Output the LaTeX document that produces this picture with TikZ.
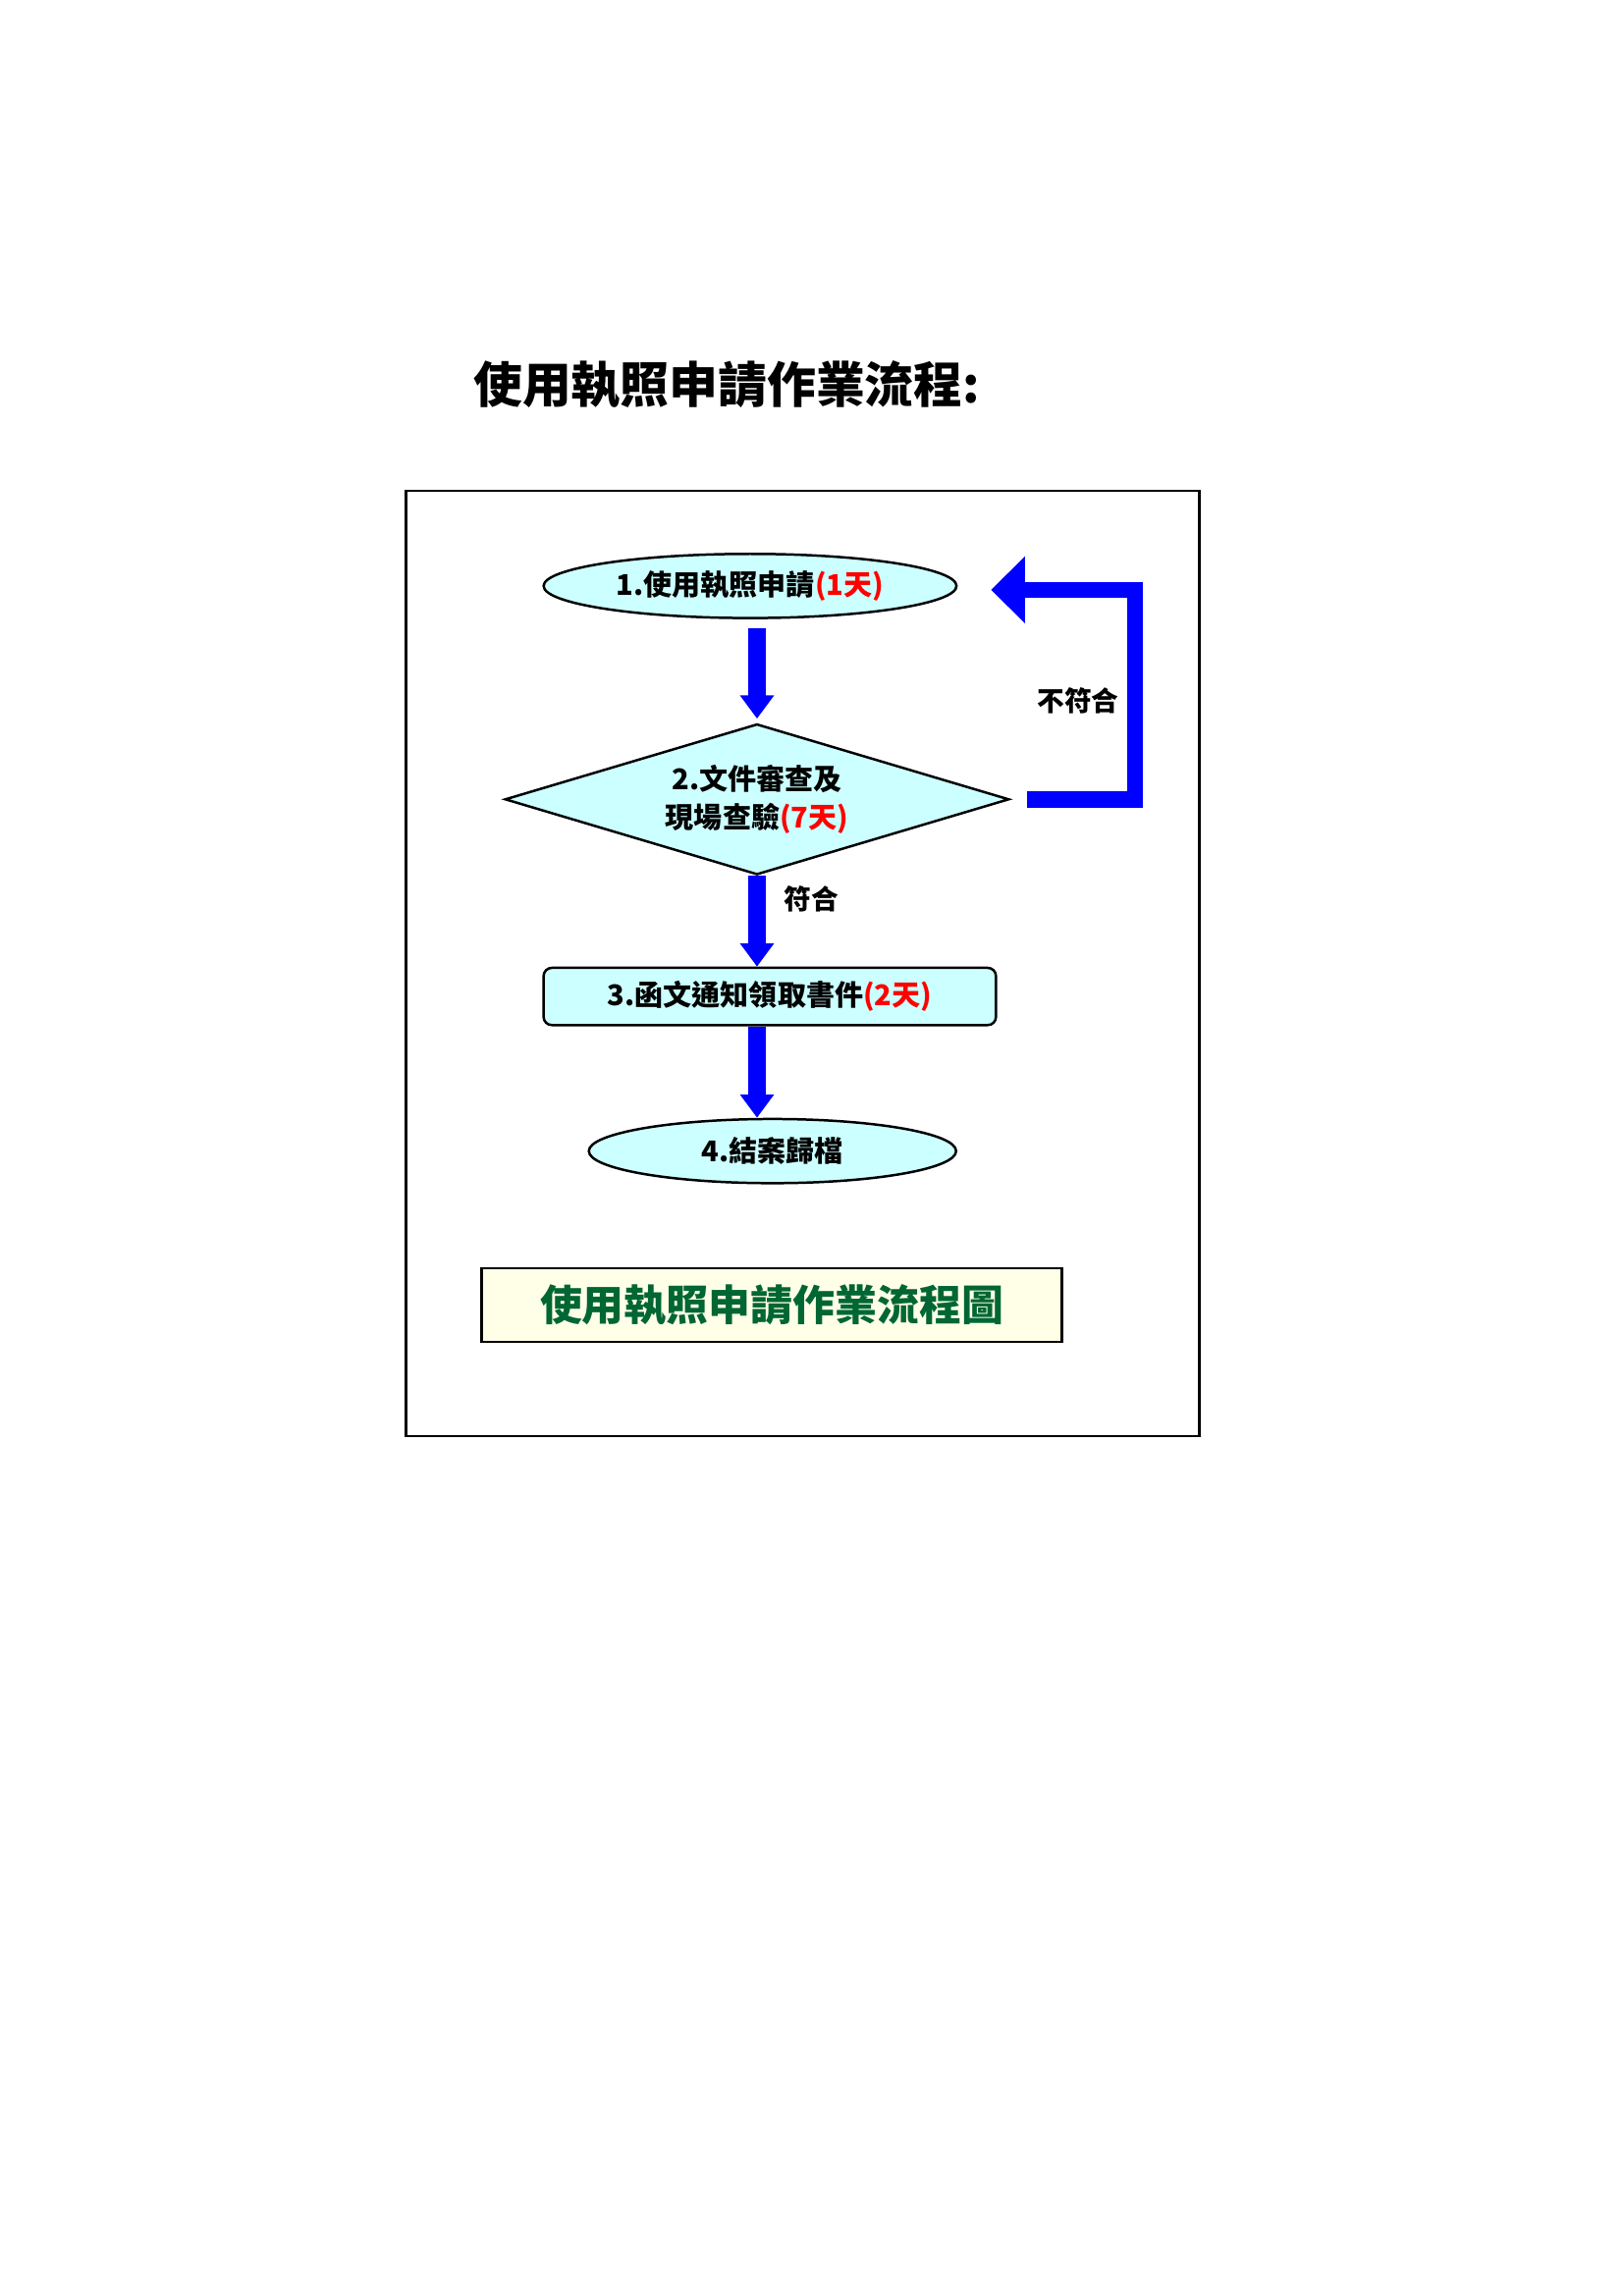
\documentclass[tikz,border=0pt]{standalone}
\usepackage{fontspec}
\setmainfont{Noto Sans CJK TC}
\usetikzlibrary{shapes.geometric,arrows.meta,positioning}

\definecolor{boxcyan}{RGB}{204,255,255}
\definecolor{flowblue}{RGB}{0,0,255}
\definecolor{capgreen}{RGB}{0,102,51}
\definecolor{capyellow}{RGB}{255,255,232}

\newcommand{\tian}[1]{\textcolor{red}{(#1天)}}

\begin{document}
\begin{tikzpicture}[
    flowtext/.style={font=\fontsize{10.5}{14}\selectfont\bfseries, align=center},
    ovalbox/.style={ellipse, draw, line width=0.9pt, fill=boxcyan, inner sep=0pt, flowtext},
    checkbox/.style={diamond, aspect=3.3, draw, line width=0.9pt, fill=boxcyan, inner sep=0pt, flowtext},
    taskbox/.style={rectangle, rounded corners=3pt, draw, line width=0.9pt, fill=boxcyan, inner sep=0pt, flowtext},
    downarrow/.style={draw=flowblue, line width=6.5pt, -{Triangle[length=0.3cm, width=0.42cm]}},
    backarrow/.style={draw=flowblue, line width=6pt, -{Triangle[length=0.44cm, width=0.84cm]}},
    flowlabel/.style={font=\fontsize{10}{12}\selectfont\bfseries}
]
    % A4 页面
    \useasboundingbox (0,0) rectangle (21,29.7);

    % 标题
    \node[anchor=west, font=\fontsize{18}{22}\selectfont\bfseries] (title) at (6.0,24.72) {使用執照申請作業流程:};

    % 外框
    \draw[line width=0.8pt] (5.25,11.12) rectangle (15.51,23.35);

    % 流程节点
    \node[ovalbox, minimum width=5.34cm, minimum height=0.83cm] (s1) at (9.70,22.12) {1.使用執照申請\tian{1}};
    \node[checkbox, minimum width=6.52cm, minimum height=1.95cm] (s2) at (9.79,19.36) {2.文件審查及\\現場查驗\tian{7}};
    \node[taskbox, minimum width=5.85cm, minimum height=0.74cm] (s3) at (9.955,16.81) {3.函文通知領取書件\tian{2}};
    \node[ovalbox, minimum width=4.75cm, minimum height=0.83cm] (s4) at (9.99,14.81) {4.結案歸檔};

    % 向下的箭头
    \draw[downarrow, shorten <=0.11cm, shorten >=1.5pt] (s1.south -| s2.north) -- (s2.north);
    \draw[downarrow] (s2.south) -- (s2.south |- s3.north) node[flowlabel, pos=0.25, right=0.12cm] (ok) {符合};
    \draw[downarrow] (s3.south -| s2.south) -- (s2.south |- s4.north);

    % 不符合时退回
    \coordinate (turn) at (14.68,19.36);
    \draw[backarrow] ([xshift=0.21cm]s2.east) -- (turn) -- ([yshift=-0.05cm]s1.east -| turn) -- ([xshift=0.43cm,yshift=-0.05cm]s1.east);
    \node[flowlabel] (notok) at (13.94,20.63) {不符合};

    % 图名
    \node[draw, line width=0.9pt, fill=capyellow, minimum width=7.5cm, minimum height=0.95cm,
          text=capgreen, font=\fontsize{15.5}{18}\selectfont\bfseries] (cap) at (9.98,12.82) {使用執照申請作業流程圖};
\end{tikzpicture}
\end{document}
